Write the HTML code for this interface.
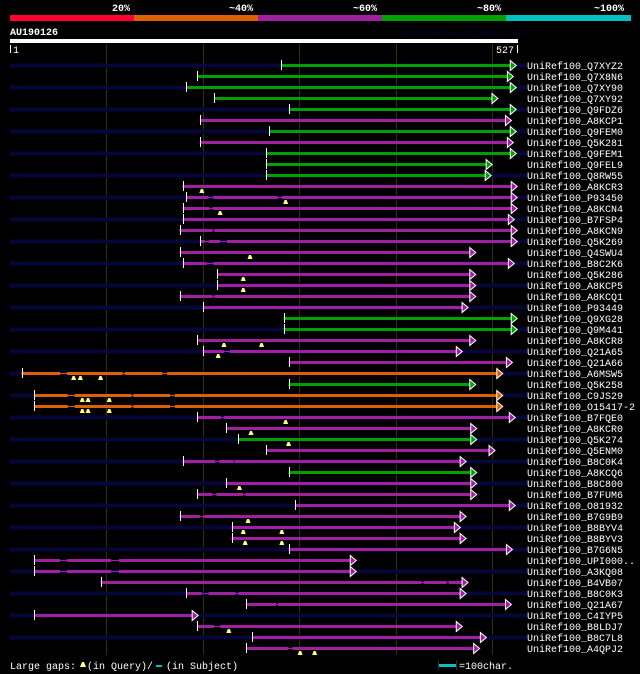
<!DOCTYPE html>
<html><head><meta charset="utf-8"><style>
html,body{margin:0;padding:0;background:#000;}
svg{display:block;}
text{font-family:"Liberation Mono","DejaVu Sans Mono",monospace;font-size:10px;fill:#fff;}
</style></head><body>
<svg id="chart" width="640" height="674" viewBox="0 0 640 674" xmlns="http://www.w3.org/2000/svg">
<rect x="0" y="0" width="640" height="674" fill="#000"/>
<g>
<rect x="10" y="15" width="124" height="6" fill="#ff0030"/>
<rect x="134" y="15" width="124" height="6" fill="#e06000"/>
<rect x="258" y="15" width="124" height="6" fill="#a020a0"/>
<rect x="382" y="15" width="124" height="6" fill="#00a000"/>
<rect x="506" y="15" width="125" height="6" fill="#00c0c0"/>
<text x="112" y="11" font-weight="bold">20%</text>
<text x="229" y="11" font-weight="bold">~40%</text>
<text x="353" y="11" font-weight="bold">~60%</text>
<text x="477" y="11" font-weight="bold">~80%</text>
<text x="594" y="11" font-weight="bold">~100%</text>
</g>
<text x="10" y="35" font-weight="bold">AU190126</text>
<text x="402" y="36" style="fill:#000030">AlignView.pm Beta rel.7</text>
<rect x="10" y="39" width="508" height="4" fill="#fff"/>
<rect x="10" y="45" width="1" height="8" fill="#fff"/>
<text x="13" y="53">1</text>
<rect x="517" y="45" width="1" height="8" fill="#fff"/>
<text x="496" y="53">527</text>
<g id="grid"></g>
<g id="rows"></g>
<g>
<text x="10" y="669">Large gaps:</text>
<polygon points="80,667 82,662 84,662 86,667" fill="#ffff80"/>
<text x="87" y="669">(in Query)/</text>
<rect x="156" y="665" width="6" height="2" fill="#00c0c0"/>
<text x="166" y="669">(in Subject)</text>
<rect x="438" y="660" width="1" height="10" fill="#333300"/>
<rect x="456" y="660" width="1" height="10" fill="#333300"/>
<rect x="439" y="664" width="17" height="3" fill="#00c0c0"/>
<text x="459" y="669">=100char.</text>
</g>
</svg>
<script>
const names = ["Q7XYZ2","Q7X8N6","Q7XY90","Q7XY92","Q9FDZ6","A8KCP1","Q9FEM0","Q5K281","Q9FEM1","Q9FEL9","Q8RW55","A8KCR3","P93450","A8KCN4","B7FSP4","A8KCN9","Q5K269","Q4SWU4","B8C2K6","Q5K286","A8KCP5","A8KCQ1","P93449","Q9XG28","Q9M441","A8KCR8","Q21A65","Q21A66","A6MSW5","Q5K258","C9JS29","O15417-2","B7FQE0","A8KCR0","Q5K274","Q5ENM0","B8C0K4","A8KCQ6","B8C800","B7FUM6","O81932","B7G9B9","B8BYV4","B8BYV3","B7G6N5","UPI000..","A3KQ08","B4VB07","B8C0K3","Q21A67","C4IYP5","B8LDJ7","B8C7L8","A4QPJ2"];
const starts = [282,195,184,213,290,198,270,198,267,267,267,180,184,180,180,177,198,177,180,216,216,177,201,285,285,195,201,290,13,290,26,26,195,225,238,267,180,290,225,195,297,177,231,231,290,26,26,95,184,246,26,195,252,246];
const ends = [520,517,520,501,520,515,520,517,520,495,494,521,521,521,518,521,521,478,518,478,478,478,470,521,521,478,464,516,506,478,506,506,519,479,479,498,468,479,479,479,519,468,462,468,516,354,354,470,468,515,190,464,489,482];
const identity = ["G","G","G","G","G","M","G","M","G","G","G","M","M","M","M","M","M","M","M","M","M","M","M","G","G","M","M","M","O","G","O","O","M","M","G","M","M","G","M","M","M","M","M","M","M","M","M","M","M","M","M","M","M","M"];
const gaps = [[],[],[],[],[],[],[],[],[],[],[],[],[[207,212],[279,283]],[[208,211]],[],[[211,213]],[[203,207],[219,226]],[],[[205,212]],[],[],[[211,213]],[],[],[],[],[[223,229]],[],[[53,60],[118,120],[159,164]],[],[[61,68],[127,129],[167,172]],[[61,68],[127,129],[167,172]],[[220,223]],[],[],[],[[214,218],[233,234]],[],[],[[211,215],[243,245]],[],[[198,202]],[],[],[],[[53,60],[106,114]],[[53,60],[106,114]],[[428,430],[454,456]],[[200,207],[235,238]],[[277,279]],[],[[213,219]],[],[[290,294]]];
const marks = [[],[],[],[],[],[],[],[],[],[],[],[200],[287],[219],[],[],[],[250],[],[243],[243],[],[],[],[],[223,262],[217],[],[67,74,95],[],[76,82,104],[76,82,104],[287],[251],[290],[],[],[],[239],[],[],[248],[243,283],[245,283],[],[],[],[],[],[],[],[228],[],[302,317]];
const gridTicks = [101,201,301,401,501];

const colorMap = {G:"#00a000", M:"#a020a0", O:"#e06000"};
const NS = "http://www.w3.org/2000/svg";
const qLen = 527;
function xScale(q){ return 10 + (q-1)*507/(qLen-1); }
function yRow(i){ return 65 + i*11; }
function mk(tag, attrs, parent){ const e=document.createElementNS(NS,tag); for(const k in attrs) e.setAttribute(k,attrs[k]); parent.appendChild(e); return e; }

const grid = document.getElementById('grid');
const rows = document.getElementById('rows');
names.forEach((n,i)=>{
  if(i%2===0){
    const s = mk('rect',{x:10,y:yRow(i)-1.5,width:517,height:4,fill:"#06063a"},rows);
    
    
  }
});
gridTicks.forEach(t=>{
  const l = mk('rect',{x:Math.round(xScale(t)),y:44,width:1,height:611,fill:"#333300"},grid);
  
  
});
names.forEach((n,i)=>{
  const y = yRow(i);
  const col = colorMap[identity[i]];
  const g = mk('g',{},rows);
  
  
  let pos = starts[i];
  const gl = gaps[i].slice().sort((a,b)=>a[0]-b[0]);
  const pieces = [];
  gl.forEach(gp=>{ pieces.push([pos,gp[0],3]); pieces.push([gp[0],gp[1],1]); pos=gp[1]; });
  pieces.push([pos,ends[i],3]);
  pieces.forEach(p=>{
    const x1=xScale(p[0]), x2=xScale(p[1]);
    const r = mk('rect',{x:x1,y:p[2]===3?y-1:y,width:Math.max(0,x2-x1),height:p[2],fill:col},g);
    
    
  });
  const sx = Math.round(xScale(starts[i]));
  const st = mk('rect',{x:sx,y:y-5,width:1,height:10,fill:"#fff"},g);
  
  
  const ex = xScale(ends[i]);
  const ar = mk('polygon',{points:`${ex},${y-4.5} ${ex+6},${y+0.5} ${ex},${y+5.5}`,fill:col,stroke:"#fff","stroke-width":1},g);
  
  
  marks[i].forEach(m=>{
    const mx = xScale(m);
    const t = mk('polygon',{points:`${mx-2.5},${y+7} ${mx-1},${y+3} ${mx+1},${y+3} ${mx+2.5},${y+7}`,fill:"#ffff80"},g);
    
    
  });
  const tx = mk('text',{x:527,y:y+4},g);
  tx.textContent = 'UniRef100_'+n;
  
  
});
</script>
</body></html>
